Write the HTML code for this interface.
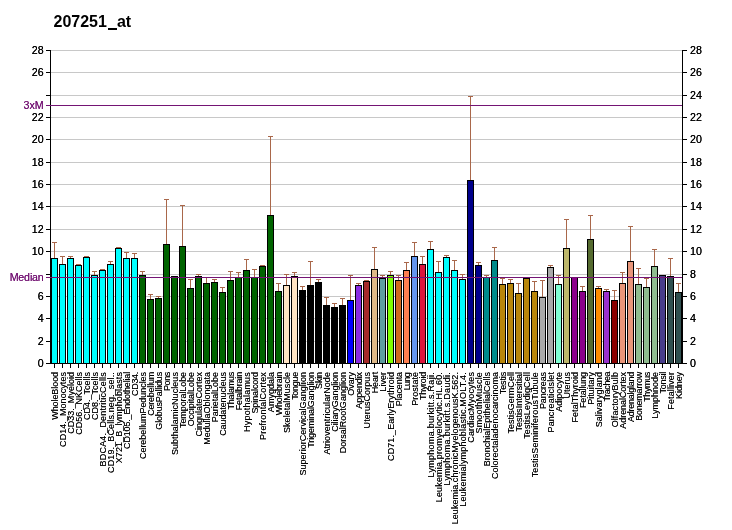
<!DOCTYPE html><html><head><meta charset="utf-8"><title>207251_at</title><style>
html,body{margin:0;padding:0;background:#fff}
body{width:732px;height:530px;position:relative;overflow:hidden;font-family:"Liberation Sans",sans-serif;color:#000}
#c{position:absolute;left:0;top:0;width:732px;height:530px;overflow:hidden;will-change:transform}
#c div{position:absolute}
.g{left:51px;width:631px;height:1px;background:#C8C8C8}
.tl{left:46px;width:4px;height:1px;background:#000}
.tr{left:683px;width:4px;height:1px;background:#000}
.b{width:5px;border:1px solid #000;box-sizing:content-box}
.es{width:1px;background:#A9674A}
.ec{width:5px;height:1px;background:#A9674A}
.xt{width:1px;height:4px;top:364px;background:#000}
.ll{text-shadow:0 0 0 currentColor;font-size:10.67px;line-height:12px;height:12px;width:40px;left:3.6px;text-align:right;white-space:nowrap}
.lr{text-shadow:0 0 0 #000;font-size:10.67px;line-height:12px;height:12px;left:690px;white-space:nowrap}
.xl{text-shadow:0 0 0 rgba(0,0,0,0.75);font-size:9px;line-height:10px;height:10px;white-space:nowrap;transform-origin:0 0;transform:rotate(-90deg) translateX(-100%);text-align:right}
.p{color:#741474}

</style></head><body><div id="c">
<div style="left:53.5px;top:11px;font-size:16px;font-weight:bold;line-height:22px;white-space:nowrap">207251<span style="display:inline-block;width:8.6px;margin-left:1.4px;height:2px;background:#000;vertical-align:-3px"></span>at</div>
<div class="g" style="top:341px"></div>
<div class="g" style="top:318px"></div>
<div class="g" style="top:296px"></div>
<div class="g" style="top:274px"></div>
<div class="g" style="top:251px"></div>
<div class="g" style="top:229px"></div>
<div class="g" style="top:206px"></div>
<div class="g" style="top:184px"></div>
<div class="g" style="top:162px"></div>
<div class="g" style="top:139px"></div>
<div class="g" style="top:117px"></div>
<div class="g" style="top:95px"></div>
<div class="g" style="top:72px"></div>
<div class="g" style="top:50px"></div>
<div class="tl" style="top:363px"></div>
<div class="tr" style="top:363px"></div>
<div class="ll" style="top:357px">0</div>
<div class="lr" style="top:357px">0</div>
<div class="tl" style="top:341px"></div>
<div class="tr" style="top:341px"></div>
<div class="ll" style="top:335px">2</div>
<div class="lr" style="top:335px">2</div>
<div class="tl" style="top:318px"></div>
<div class="tr" style="top:318px"></div>
<div class="ll" style="top:312px">4</div>
<div class="lr" style="top:312px">4</div>
<div class="tl" style="top:296px"></div>
<div class="tr" style="top:296px"></div>
<div class="ll" style="top:290px">6</div>
<div class="lr" style="top:290px">6</div>
<div class="tl" style="top:274px"></div>
<div class="tr" style="top:274px"></div>
<div class="lr" style="top:268px">8</div>
<div class="tl" style="top:251px"></div>
<div class="tr" style="top:251px"></div>
<div class="ll" style="top:245px">10</div>
<div class="lr" style="top:245px">10</div>
<div class="tl" style="top:229px"></div>
<div class="tr" style="top:229px"></div>
<div class="ll" style="top:223px">12</div>
<div class="lr" style="top:223px">12</div>
<div class="tl" style="top:206px"></div>
<div class="tr" style="top:206px"></div>
<div class="ll" style="top:200px">14</div>
<div class="lr" style="top:200px">14</div>
<div class="tl" style="top:184px"></div>
<div class="tr" style="top:184px"></div>
<div class="ll" style="top:178px">16</div>
<div class="lr" style="top:178px">16</div>
<div class="tl" style="top:162px"></div>
<div class="tr" style="top:162px"></div>
<div class="ll" style="top:156px">18</div>
<div class="lr" style="top:156px">18</div>
<div class="tl" style="top:139px"></div>
<div class="tr" style="top:139px"></div>
<div class="ll" style="top:133px">20</div>
<div class="lr" style="top:133px">20</div>
<div class="tl" style="top:117px"></div>
<div class="tr" style="top:117px"></div>
<div class="ll" style="top:111px">22</div>
<div class="lr" style="top:111px">22</div>
<div class="tl" style="top:95px"></div>
<div class="tr" style="top:95px"></div>
<div class="lr" style="top:89px">24</div>
<div class="tl" style="top:72px"></div>
<div class="tr" style="top:72px"></div>
<div class="ll" style="top:66px">26</div>
<div class="lr" style="top:66px">26</div>
<div class="tl" style="top:50px"></div>
<div class="tr" style="top:50px"></div>
<div class="ll" style="top:44px">28</div>
<div class="lr" style="top:44px">28</div>
<div class="es" style="left:54px;top:242px;height:16px"></div>
<div class="ec" style="left:52px;top:242px"></div>
<div class="b" style="left:51px;top:258px;height:104px;background:#00FFFF"></div>
<div class="xt" style="left:54px"></div>
<div class="es" style="left:62px;top:256px;height:8px"></div>
<div class="ec" style="left:60px;top:256px"></div>
<div class="b" style="left:59px;top:264px;height:98px;background:#00FFFF"></div>
<div class="xt" style="left:62px"></div>
<div class="es" style="left:70px;top:256px;height:2px"></div>
<div class="ec" style="left:68px;top:256px"></div>
<div class="b" style="left:67px;top:258px;height:104px;background:#00FFFF"></div>
<div class="xt" style="left:70px"></div>
<div class="es" style="left:78px;top:264px;height:1px"></div>
<div class="ec" style="left:76px;top:264px"></div>
<div class="b" style="left:75px;top:265px;height:97px;background:#00FFFF"></div>
<div class="xt" style="left:78px"></div>
<div class="es" style="left:86px;top:256px;height:1px"></div>
<div class="ec" style="left:84px;top:256px"></div>
<div class="b" style="left:83px;top:257px;height:105px;background:#00FFFF"></div>
<div class="xt" style="left:86px"></div>
<div class="es" style="left:94px;top:271px;height:4px"></div>
<div class="ec" style="left:92px;top:271px"></div>
<div class="b" style="left:91px;top:275px;height:87px;background:#00FFFF"></div>
<div class="xt" style="left:94px"></div>
<div class="es" style="left:102px;top:269px;height:1px"></div>
<div class="ec" style="left:100px;top:269px"></div>
<div class="b" style="left:99px;top:270px;height:92px;background:#00FFFF"></div>
<div class="xt" style="left:102px"></div>
<div class="es" style="left:110px;top:261px;height:3px"></div>
<div class="ec" style="left:108px;top:261px"></div>
<div class="b" style="left:107px;top:264px;height:98px;background:#00FFFF"></div>
<div class="xt" style="left:110px"></div>
<div class="es" style="left:118px;top:247px;height:1px"></div>
<div class="ec" style="left:116px;top:247px"></div>
<div class="b" style="left:115px;top:248px;height:114px;background:#00FFFF"></div>
<div class="xt" style="left:118px"></div>
<div class="es" style="left:126px;top:252px;height:6px"></div>
<div class="ec" style="left:124px;top:252px"></div>
<div class="b" style="left:123px;top:258px;height:104px;background:#00FFFF"></div>
<div class="xt" style="left:126px"></div>
<div class="es" style="left:134px;top:253px;height:5px"></div>
<div class="ec" style="left:132px;top:253px"></div>
<div class="b" style="left:131px;top:258px;height:104px;background:#00FFFF"></div>
<div class="xt" style="left:134px"></div>
<div class="es" style="left:142px;top:271px;height:4px"></div>
<div class="ec" style="left:140px;top:271px"></div>
<div class="b" style="left:139px;top:275px;height:87px;background:#006400"></div>
<div class="xt" style="left:142px"></div>
<div class="es" style="left:150px;top:294px;height:5px"></div>
<div class="ec" style="left:148px;top:294px"></div>
<div class="b" style="left:147px;top:299px;height:63px;background:#006400"></div>
<div class="xt" style="left:150px"></div>
<div class="es" style="left:158px;top:296px;height:2px"></div>
<div class="ec" style="left:156px;top:296px"></div>
<div class="b" style="left:155px;top:298px;height:64px;background:#006400"></div>
<div class="xt" style="left:158px"></div>
<div class="es" style="left:166px;top:199px;height:45px"></div>
<div class="ec" style="left:164px;top:199px"></div>
<div class="b" style="left:163px;top:244px;height:118px;background:#006400"></div>
<div class="xt" style="left:166px"></div>
<div class="b" style="left:171px;top:276px;height:86px;background:#006400"></div>
<div class="xt" style="left:174px"></div>
<div class="es" style="left:182px;top:205px;height:41px"></div>
<div class="ec" style="left:180px;top:205px"></div>
<div class="b" style="left:179px;top:246px;height:116px;background:#006400"></div>
<div class="xt" style="left:182px"></div>
<div class="es" style="left:190px;top:279px;height:9px"></div>
<div class="ec" style="left:188px;top:279px"></div>
<div class="b" style="left:187px;top:288px;height:74px;background:#006400"></div>
<div class="xt" style="left:190px"></div>
<div class="es" style="left:198px;top:274px;height:2px"></div>
<div class="ec" style="left:196px;top:274px"></div>
<div class="b" style="left:195px;top:276px;height:86px;background:#006400"></div>
<div class="xt" style="left:198px"></div>
<div class="es" style="left:206px;top:277px;height:6px"></div>
<div class="ec" style="left:204px;top:277px"></div>
<div class="b" style="left:203px;top:283px;height:79px;background:#006400"></div>
<div class="xt" style="left:206px"></div>
<div class="es" style="left:214px;top:279px;height:3px"></div>
<div class="ec" style="left:212px;top:279px"></div>
<div class="b" style="left:211px;top:282px;height:80px;background:#006400"></div>
<div class="xt" style="left:214px"></div>
<div class="es" style="left:222px;top:287px;height:5px"></div>
<div class="ec" style="left:220px;top:287px"></div>
<div class="b" style="left:219px;top:292px;height:70px;background:#006400"></div>
<div class="xt" style="left:222px"></div>
<div class="es" style="left:230px;top:271px;height:9px"></div>
<div class="ec" style="left:228px;top:271px"></div>
<div class="b" style="left:227px;top:280px;height:82px;background:#006400"></div>
<div class="xt" style="left:230px"></div>
<div class="es" style="left:238px;top:272px;height:5px"></div>
<div class="ec" style="left:236px;top:272px"></div>
<div class="b" style="left:235px;top:277px;height:85px;background:#006400"></div>
<div class="xt" style="left:238px"></div>
<div class="es" style="left:246px;top:259px;height:11px"></div>
<div class="ec" style="left:244px;top:259px"></div>
<div class="b" style="left:243px;top:270px;height:92px;background:#006400"></div>
<div class="xt" style="left:246px"></div>
<div class="es" style="left:254px;top:269px;height:8px"></div>
<div class="ec" style="left:252px;top:269px"></div>
<div class="b" style="left:251px;top:277px;height:85px;background:#006400"></div>
<div class="xt" style="left:254px"></div>
<div class="es" style="left:262px;top:265px;height:1px"></div>
<div class="ec" style="left:260px;top:265px"></div>
<div class="b" style="left:259px;top:266px;height:96px;background:#006400"></div>
<div class="xt" style="left:262px"></div>
<div class="es" style="left:270px;top:136px;height:79px"></div>
<div class="ec" style="left:268px;top:136px"></div>
<div class="b" style="left:267px;top:215px;height:147px;background:#006400"></div>
<div class="xt" style="left:270px"></div>
<div class="es" style="left:278px;top:283px;height:8px"></div>
<div class="ec" style="left:276px;top:283px"></div>
<div class="b" style="left:275px;top:291px;height:71px;background:#006400"></div>
<div class="xt" style="left:278px"></div>
<div class="es" style="left:286px;top:274px;height:11px"></div>
<div class="ec" style="left:284px;top:274px"></div>
<div class="b" style="left:283px;top:285px;height:77px;background:#FFE4C4"></div>
<div class="xt" style="left:286px"></div>
<div class="es" style="left:294px;top:272px;height:4px"></div>
<div class="ec" style="left:292px;top:272px"></div>
<div class="b" style="left:291px;top:276px;height:86px;background:#FFE4C4"></div>
<div class="xt" style="left:294px"></div>
<div class="es" style="left:302px;top:286px;height:4px"></div>
<div class="ec" style="left:300px;top:286px"></div>
<div class="b" style="left:299px;top:290px;height:72px;background:#000000"></div>
<div class="xt" style="left:302px"></div>
<div class="es" style="left:310px;top:261px;height:24px"></div>
<div class="ec" style="left:308px;top:261px"></div>
<div class="b" style="left:307px;top:285px;height:77px;background:#000000"></div>
<div class="xt" style="left:310px"></div>
<div class="es" style="left:318px;top:279px;height:3px"></div>
<div class="ec" style="left:316px;top:279px"></div>
<div class="b" style="left:315px;top:282px;height:80px;background:#000000"></div>
<div class="xt" style="left:318px"></div>
<div class="es" style="left:326px;top:297px;height:8px"></div>
<div class="ec" style="left:324px;top:297px"></div>
<div class="b" style="left:323px;top:305px;height:57px;background:#000000"></div>
<div class="xt" style="left:326px"></div>
<div class="es" style="left:334px;top:303px;height:4px"></div>
<div class="ec" style="left:332px;top:303px"></div>
<div class="b" style="left:331px;top:307px;height:55px;background:#000000"></div>
<div class="xt" style="left:334px"></div>
<div class="es" style="left:342px;top:298px;height:7px"></div>
<div class="ec" style="left:340px;top:298px"></div>
<div class="b" style="left:339px;top:305px;height:57px;background:#000000"></div>
<div class="xt" style="left:342px"></div>
<div class="es" style="left:350px;top:275px;height:25px"></div>
<div class="ec" style="left:348px;top:275px"></div>
<div class="b" style="left:347px;top:300px;height:62px;background:#0000FF"></div>
<div class="xt" style="left:350px"></div>
<div class="es" style="left:358px;top:283px;height:2px"></div>
<div class="ec" style="left:356px;top:283px"></div>
<div class="b" style="left:355px;top:285px;height:77px;background:#8A2BE2"></div>
<div class="xt" style="left:358px"></div>
<div class="es" style="left:366px;top:280px;height:1px"></div>
<div class="ec" style="left:364px;top:280px"></div>
<div class="b" style="left:363px;top:281px;height:81px;background:#A52A2A"></div>
<div class="xt" style="left:366px"></div>
<div class="es" style="left:374px;top:247px;height:22px"></div>
<div class="ec" style="left:372px;top:247px"></div>
<div class="b" style="left:371px;top:269px;height:93px;background:#DEB887"></div>
<div class="xt" style="left:374px"></div>
<div class="es" style="left:382px;top:275px;height:3px"></div>
<div class="ec" style="left:380px;top:275px"></div>
<div class="b" style="left:379px;top:278px;height:84px;background:#5F9EA0"></div>
<div class="xt" style="left:382px"></div>
<div class="es" style="left:390px;top:271px;height:4px"></div>
<div class="ec" style="left:388px;top:271px"></div>
<div class="b" style="left:387px;top:275px;height:87px;background:#7FFF00"></div>
<div class="xt" style="left:390px"></div>
<div class="es" style="left:398px;top:275px;height:5px"></div>
<div class="ec" style="left:396px;top:275px"></div>
<div class="b" style="left:395px;top:280px;height:82px;background:#D2691E"></div>
<div class="xt" style="left:398px"></div>
<div class="es" style="left:406px;top:262px;height:8px"></div>
<div class="ec" style="left:404px;top:262px"></div>
<div class="b" style="left:403px;top:270px;height:92px;background:#FF7F50"></div>
<div class="xt" style="left:406px"></div>
<div class="es" style="left:414px;top:242px;height:14px"></div>
<div class="ec" style="left:412px;top:242px"></div>
<div class="b" style="left:411px;top:256px;height:106px;background:#6495ED"></div>
<div class="xt" style="left:414px"></div>
<div class="es" style="left:422px;top:256px;height:8px"></div>
<div class="ec" style="left:420px;top:256px"></div>
<div class="b" style="left:419px;top:264px;height:98px;background:#DC143C"></div>
<div class="xt" style="left:422px"></div>
<div class="es" style="left:430px;top:241px;height:8px"></div>
<div class="ec" style="left:428px;top:241px"></div>
<div class="b" style="left:427px;top:249px;height:113px;background:#00FFFF"></div>
<div class="xt" style="left:430px"></div>
<div class="es" style="left:438px;top:261px;height:11px"></div>
<div class="ec" style="left:436px;top:261px"></div>
<div class="b" style="left:435px;top:272px;height:90px;background:#00FFFF"></div>
<div class="xt" style="left:438px"></div>
<div class="es" style="left:446px;top:255px;height:2px"></div>
<div class="ec" style="left:444px;top:255px"></div>
<div class="b" style="left:443px;top:257px;height:105px;background:#00FFFF"></div>
<div class="xt" style="left:446px"></div>
<div class="es" style="left:454px;top:260px;height:10px"></div>
<div class="ec" style="left:452px;top:260px"></div>
<div class="b" style="left:451px;top:270px;height:92px;background:#00FFFF"></div>
<div class="xt" style="left:454px"></div>
<div class="es" style="left:462px;top:274px;height:5px"></div>
<div class="ec" style="left:460px;top:274px"></div>
<div class="b" style="left:459px;top:279px;height:83px;background:#00FFFF"></div>
<div class="xt" style="left:462px"></div>
<div class="es" style="left:470px;top:96px;height:84px"></div>
<div class="ec" style="left:468px;top:96px"></div>
<div class="b" style="left:467px;top:180px;height:182px;background:#00008B"></div>
<div class="xt" style="left:470px"></div>
<div class="es" style="left:478px;top:262px;height:3px"></div>
<div class="ec" style="left:476px;top:262px"></div>
<div class="b" style="left:475px;top:265px;height:97px;background:#00008B"></div>
<div class="xt" style="left:478px"></div>
<div class="es" style="left:486px;top:275px;height:2px"></div>
<div class="ec" style="left:484px;top:275px"></div>
<div class="b" style="left:483px;top:277px;height:85px;background:#008B8B"></div>
<div class="xt" style="left:486px"></div>
<div class="es" style="left:494px;top:247px;height:13px"></div>
<div class="ec" style="left:492px;top:247px"></div>
<div class="b" style="left:491px;top:260px;height:102px;background:#008B8B"></div>
<div class="xt" style="left:494px"></div>
<div class="es" style="left:502px;top:278px;height:6px"></div>
<div class="ec" style="left:500px;top:278px"></div>
<div class="b" style="left:499px;top:284px;height:78px;background:#B8860B"></div>
<div class="xt" style="left:502px"></div>
<div class="es" style="left:510px;top:279px;height:4px"></div>
<div class="ec" style="left:508px;top:279px"></div>
<div class="b" style="left:507px;top:283px;height:79px;background:#B8860B"></div>
<div class="xt" style="left:510px"></div>
<div class="es" style="left:518px;top:283px;height:10px"></div>
<div class="ec" style="left:516px;top:283px"></div>
<div class="b" style="left:515px;top:293px;height:69px;background:#B8860B"></div>
<div class="xt" style="left:518px"></div>
<div class="es" style="left:526px;top:277px;height:1px"></div>
<div class="ec" style="left:524px;top:277px"></div>
<div class="b" style="left:523px;top:278px;height:84px;background:#B8860B"></div>
<div class="xt" style="left:526px"></div>
<div class="es" style="left:534px;top:281px;height:10px"></div>
<div class="ec" style="left:532px;top:281px"></div>
<div class="b" style="left:531px;top:291px;height:71px;background:#B8860B"></div>
<div class="xt" style="left:534px"></div>
<div class="es" style="left:542px;top:280px;height:17px"></div>
<div class="ec" style="left:540px;top:280px"></div>
<div class="b" style="left:539px;top:297px;height:65px;background:#A9A9A9"></div>
<div class="xt" style="left:542px"></div>
<div class="es" style="left:550px;top:265px;height:2px"></div>
<div class="ec" style="left:548px;top:265px"></div>
<div class="b" style="left:547px;top:267px;height:95px;background:#A9A9A9"></div>
<div class="xt" style="left:550px"></div>
<div class="es" style="left:558px;top:275px;height:9px"></div>
<div class="ec" style="left:556px;top:275px"></div>
<div class="b" style="left:555px;top:284px;height:78px;background:#7FFFD4"></div>
<div class="xt" style="left:558px"></div>
<div class="es" style="left:566px;top:219px;height:29px"></div>
<div class="ec" style="left:564px;top:219px"></div>
<div class="b" style="left:563px;top:248px;height:114px;background:#BDB76B"></div>
<div class="xt" style="left:566px"></div>
<div class="b" style="left:571px;top:277px;height:85px;background:#8B008B"></div>
<div class="xt" style="left:574px"></div>
<div class="es" style="left:582px;top:286px;height:5px"></div>
<div class="ec" style="left:580px;top:286px"></div>
<div class="b" style="left:579px;top:291px;height:71px;background:#8B008B"></div>
<div class="xt" style="left:582px"></div>
<div class="es" style="left:590px;top:215px;height:24px"></div>
<div class="ec" style="left:588px;top:215px"></div>
<div class="b" style="left:587px;top:239px;height:123px;background:#556B2F"></div>
<div class="xt" style="left:590px"></div>
<div class="es" style="left:598px;top:286px;height:2px"></div>
<div class="ec" style="left:596px;top:286px"></div>
<div class="b" style="left:595px;top:288px;height:74px;background:#FF8C00"></div>
<div class="xt" style="left:598px"></div>
<div class="es" style="left:606px;top:289px;height:2px"></div>
<div class="ec" style="left:604px;top:289px"></div>
<div class="b" style="left:603px;top:291px;height:71px;background:#9932CC"></div>
<div class="xt" style="left:606px"></div>
<div class="es" style="left:614px;top:290px;height:10px"></div>
<div class="ec" style="left:612px;top:290px"></div>
<div class="b" style="left:611px;top:300px;height:62px;background:#8B0000"></div>
<div class="xt" style="left:614px"></div>
<div class="es" style="left:622px;top:272px;height:11px"></div>
<div class="ec" style="left:620px;top:272px"></div>
<div class="b" style="left:619px;top:283px;height:79px;background:#E9967A"></div>
<div class="xt" style="left:622px"></div>
<div class="es" style="left:630px;top:226px;height:35px"></div>
<div class="ec" style="left:628px;top:226px"></div>
<div class="b" style="left:627px;top:261px;height:101px;background:#E9967A"></div>
<div class="xt" style="left:630px"></div>
<div class="es" style="left:638px;top:268px;height:16px"></div>
<div class="ec" style="left:636px;top:268px"></div>
<div class="b" style="left:635px;top:284px;height:78px;background:#8FBC8F"></div>
<div class="xt" style="left:638px"></div>
<div class="es" style="left:646px;top:278px;height:9px"></div>
<div class="ec" style="left:644px;top:278px"></div>
<div class="b" style="left:643px;top:287px;height:75px;background:#8FBC8F"></div>
<div class="xt" style="left:646px"></div>
<div class="es" style="left:654px;top:249px;height:17px"></div>
<div class="ec" style="left:652px;top:249px"></div>
<div class="b" style="left:651px;top:266px;height:96px;background:#8FBC8F"></div>
<div class="xt" style="left:654px"></div>
<div class="b" style="left:659px;top:275px;height:87px;background:#483D8B"></div>
<div class="xt" style="left:662px"></div>
<div class="es" style="left:670px;top:258px;height:18px"></div>
<div class="ec" style="left:668px;top:258px"></div>
<div class="b" style="left:667px;top:276px;height:86px;background:#2F4F4F"></div>
<div class="xt" style="left:670px"></div>
<div class="es" style="left:678px;top:283px;height:9px"></div>
<div class="ec" style="left:676px;top:283px"></div>
<div class="b" style="left:675px;top:292px;height:70px;background:#2F4F4F"></div>
<div class="xt" style="left:678px"></div>
<div style="left:50px;top:50px;width:1px;height:314px;background:#000"></div>
<div style="left:682px;top:50px;width:1px;height:314px;background:#000"></div>
<div style="left:50px;top:363px;width:633px;height:1px;background:#000"></div>
<div style="left:46px;top:105px;width:636px;height:1px;background:#741474"></div>
<div style="left:46px;top:277px;width:636px;height:1px;background:#741474"></div>
<div class="ll p" style="top:99px">3xM</div>
<div class="ll p" style="top:271px;letter-spacing:-0.17px">Median</div>
<div class="xl" style="left:50px;top:372.08px;letter-spacing:-0.078px">WholeBlood</div>
<div class="xl" style="left:58px;top:371.94px;letter-spacing:0.057px">CD14._Monocytes</div>
<div class="xl" style="left:66px;top:371.98px;letter-spacing:0.017px">CD33._Myeloid</div>
<div class="xl" style="left:74px;top:372.02px;letter-spacing:-0.017px">CD56._NKCells</div>
<div class="xl" style="left:82px;top:372.0px;letter-spacing:0.0px">CD4._Tcells</div>
<div class="xl" style="left:90px;top:372.0px;letter-spacing:0.0px">CD8._Tcells</div>
<div class="xl" style="left:98px;top:371.81px;letter-spacing:0.185px">BDCA4._DentriticCells</div>
<div class="xl" style="left:106px;top:371.88px;letter-spacing:0.123px">CD19._BCells.neg._sel..</div>
<div class="xl" style="left:114px;top:371.91px;letter-spacing:0.089px">X721_B_lymphoblasts</div>
<div class="xl" style="left:122px;top:372.18px;letter-spacing:-0.176px">CD105._Endothelial</div>
<div class="xl" style="left:130px;top:372.3px;letter-spacing:-0.3px">CD34.</div>
<div class="xl" style="left:138px;top:372.06px;letter-spacing:-0.056px">CerebellumPeduncles</div>
<div class="xl" style="left:146px;top:372.22px;letter-spacing:-0.222px">Cerebellum</div>
<div class="xl" style="left:154px;top:372.17px;letter-spacing:-0.169px">GlobusPallidus</div>
<div class="xl" style="left:162px;top:372.37px;letter-spacing:-0.367px">Pons</div>
<div class="xl" style="left:170px;top:371.94px;letter-spacing:0.059px">SubthalamicNucleus</div>
<div class="xl" style="left:178px;top:372.09px;letter-spacing:-0.091px">TemporalLobe</div>
<div class="xl" style="left:186px;top:372.02px;letter-spacing:-0.025px">OccipitalLobe</div>
<div class="xl" style="left:194px;top:372.01px;letter-spacing:-0.007px">CingulateCortex</div>
<div class="xl" style="left:202px;top:372.01px;letter-spacing:-0.013px">MedullaOblongata</div>
<div class="xl" style="left:210px;top:372.03px;letter-spacing:-0.027px">ParietalLobe</div>
<div class="xl" style="left:218px;top:372.08px;letter-spacing:-0.085px">Caudatenucleus</div>
<div class="xl" style="left:226px;top:372.26px;letter-spacing:-0.257px">Thalamus</div>
<div class="xl" style="left:234px;top:372.18px;letter-spacing:-0.178px">Fetalbrain</div>
<div class="xl" style="left:242px;top:371.8px;letter-spacing:0.2px">Hypothalamus</div>
<div class="xl" style="left:250px;top:372.1px;letter-spacing:-0.1px">Spinalcord</div>
<div class="xl" style="left:258px;top:371.85px;letter-spacing:0.147px">PrefrontalCortex</div>
<div class="xl" style="left:266px;top:371.99px;letter-spacing:0.014px">Amygdala</div>
<div class="xl" style="left:274px;top:372.22px;letter-spacing:-0.222px">Wholebrain</div>
<div class="xl" style="left:282px;top:371.97px;letter-spacing:0.031px">SkeletalMuscle</div>
<div class="xl" style="left:290px;top:372.28px;letter-spacing:-0.28px">Tongue</div>
<div class="xl" style="left:298px;top:371.96px;letter-spacing:0.043px">SuperiorCervicalGanglion</div>
<div class="xl" style="left:306px;top:372.11px;letter-spacing:-0.106px">TrigeminalGanglion</div>
<div class="xl" style="left:314px;top:372.13px;letter-spacing:-0.133px">Skin</div>
<div class="xl" style="left:322px;top:371.95px;letter-spacing:0.053px">AtrioventricularNode</div>
<div class="xl" style="left:330px;top:372.09px;letter-spacing:-0.086px">CiliaryGanglion</div>
<div class="xl" style="left:338px;top:371.99px;letter-spacing:0.012px">DorsalRootGanglion</div>
<div class="xl" style="left:346px;top:372.05px;letter-spacing:-0.05px">Ovary</div>
<div class="xl" style="left:354px;top:372.11px;letter-spacing:-0.114px">Appendix</div>
<div class="xl" style="left:362px;top:371.93px;letter-spacing:0.073px">UterusCorpus</div>
<div class="xl" style="left:370px;top:372.15px;letter-spacing:-0.15px">Heart</div>
<div class="xl" style="left:378px;top:371.98px;letter-spacing:0.025px">Liver</div>
<div class="xl" style="left:386px;top:371.9px;letter-spacing:0.095px">CD71._EarlyErythroid</div>
<div class="xl" style="left:394px;top:372.1px;letter-spacing:-0.1px">Placenta</div>
<div class="xl" style="left:402px;top:372.67px;letter-spacing:-0.667px">Lung</div>
<div class="xl" style="left:410px;top:371.97px;letter-spacing:0.029px">Prostate</div>
<div class="xl" style="left:418px;top:372.28px;letter-spacing:-0.283px">Thyroid</div>
<div class="xl" style="left:426px;top:371.72px;letter-spacing:0.283px">Lymphoma.burkitt.s.Raji.</div>
<div class="xl" style="left:434px;top:371.84px;letter-spacing:0.161px">Leukemia.promyelocytic.HL.60.</div>
<div class="xl" style="left:442px;top:371.73px;letter-spacing:0.271px">Lymphoma.burkitt.s.Daudi.</div>
<div class="xl" style="left:450px;top:371.93px;letter-spacing:0.066px">Leukemia.chronicMyelogenousK.562.</div>
<div class="xl" style="left:458px;top:371.81px;letter-spacing:0.186px">Leukemialymphoblastic.MOLT.4.</div>
<div class="xl" style="left:466px;top:371.89px;letter-spacing:0.107px">CardiacMyocytes</div>
<div class="xl" style="left:474px;top:371.84px;letter-spacing:0.164px">SmoothMuscle</div>
<div class="xl" style="left:482px;top:371.99px;letter-spacing:0.013px">BronchialEpithelialCells</div>
<div class="xl" style="left:490px;top:372.0px;letter-spacing:0.0px">Colorectaladenocarcinoma</div>
<div class="xl" style="left:498px;top:372.14px;letter-spacing:-0.14px">Testis</div>
<div class="xl" style="left:506px;top:371.96px;letter-spacing:0.038px">TestisGermCell</div>
<div class="xl" style="left:514px;top:371.97px;letter-spacing:0.031px">TestisIntersitial</div>
<div class="xl" style="left:522px;top:371.89px;letter-spacing:0.113px">TestisLeydigCell</div>
<div class="xl" style="left:530px;top:371.89px;letter-spacing:0.109px">TestisSeminiferousTubule</div>
<div class="xl" style="left:538px;top:372.13px;letter-spacing:-0.129px">Pancreas</div>
<div class="xl" style="left:546px;top:371.91px;letter-spacing:0.093px">PancreaticIslet</div>
<div class="xl" style="left:554px;top:371.98px;letter-spacing:0.025px">Adipocyte</div>
<div class="xl" style="left:562px;top:372.02px;letter-spacing:-0.02px">Uterus</div>
<div class="xl" style="left:570px;top:371.96px;letter-spacing:0.036px">FetalThyroid</div>
<div class="xl" style="left:578px;top:372.11px;letter-spacing:-0.112px">Fetallung</div>
<div class="xl" style="left:586px;top:371.98px;letter-spacing:0.025px">Pituitary</div>
<div class="xl" style="left:594px;top:371.9px;letter-spacing:0.1px">Salivarygland</div>
<div class="xl" style="left:602px;top:372.47px;letter-spacing:-0.467px">Trachea</div>
<div class="xl" style="left:610px;top:371.9px;letter-spacing:0.1px">OlfactoryBulb</div>
<div class="xl" style="left:618px;top:372.07px;letter-spacing:-0.067px">AdrenalCortex</div>
<div class="xl" style="left:626px;top:372.26px;letter-spacing:-0.264px">Adrenalgland</div>
<div class="xl" style="left:634px;top:372.22px;letter-spacing:-0.222px">Bonemarrow</div>
<div class="xl" style="left:642px;top:372.36px;letter-spacing:-0.36px">Thymus</div>
<div class="xl" style="left:650px;top:372.01px;letter-spacing:-0.013px">Lymphnode</div>
<div class="xl" style="left:658px;top:372.24px;letter-spacing:-0.24px">Tonsil</div>
<div class="xl" style="left:666px;top:371.88px;letter-spacing:0.122px">Fetalliver</div>
<div class="xl" style="left:674px;top:372.1px;letter-spacing:-0.1px">Kidney</div>
</div></body></html>
